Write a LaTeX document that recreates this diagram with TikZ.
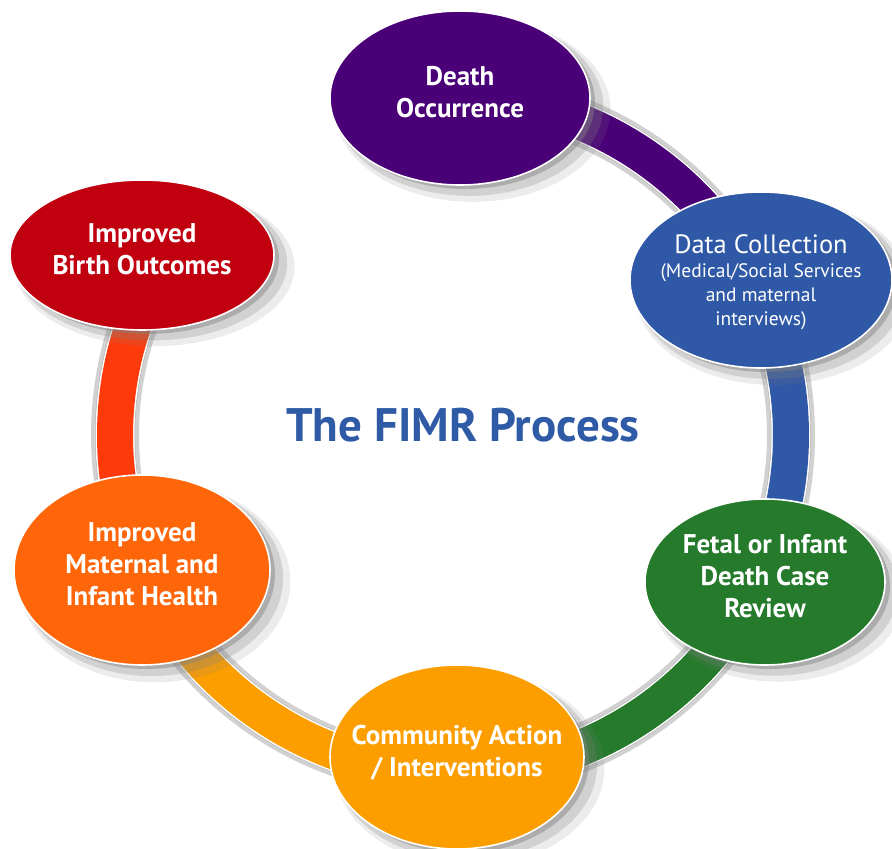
\documentclass[tikz,border=0pt]{standalone}
\usepackage{fontspec}
\setmainfont{PT Sans}
\usepackage{xcolor}
\usepackage{tikz}
\usetikzlibrary{
  calc,
  shapes.geometric,
  shadows
}

\definecolor{deathpurple}{HTML}{4A0077}
\definecolor{collectblue}{HTML}{2F58A6}
\definecolor{reviewgreen}{HTML}{257A2B}
\definecolor{actionorange}{HTML}{FC9E00}
\definecolor{healthorange}{HTML}{FF660A}
\definecolor{outcomered}{HTML}{C1000F}
\definecolor{ringred}{HTML}{FF3A0A}
\definecolor{titleblue}{HTML}{2E5AA6}

\begin{document}
\begin{tikzpicture}[%詳細設定
          x=1pt,y=1pt,
          stage/.style={
              ellipse,
              draw=white,
              line width=1.6pt,
              fill=#1,
              text=white,
              inner sep=-45pt,
              text depth=12pt,
              align=center,
              font=\bfseries\fontsize{27}{32}\selectfont,
              drop shadow={
                  shadow xshift=12pt,
                  shadow yshift=-11pt,
                  shadow scale=1.06,
                  opacity=.15
                },
              drop shadow={
                  shadow xshift=9pt,
                  shadow yshift=-8pt,
                  shadow scale=1.03,
                  opacity=.25
                },
              drop shadow={
                  shadow xshift=5pt,
                  shadow yshift=-4pt,
                  opacity=.45
                }
            },
          ring/.style={
              line width=36pt,
              draw=#1
            },
          ringedge/.style={
              line width=39pt,
              draw=white
            },
          ringshadow/.style={
              line width=#1,
              draw=black,
              opacity=.18,
              xshift=7pt,
              yshift=-6pt
            },
          ringshadow/.default=48pt
        ]

        \useasboundingbox (0,0) rectangle (892,849);

        % 座標の定義
        \coordinate (center) at (453,414);
        \def\rad{338}

        % 環の影
        \foreach \a/\b in {90/27,27/-25,-25/-89,-89/-156.5,203.5/150}{
            \draw[ringshadow] ($(center)+(\a:\rad)$) arc[start angle=\a, end angle=\b, radius=\rad];
            \draw[ringshadow=40pt] ($(center)+(\a:\rad)$) arc[start angle=\a, end angle=\b, radius=\rad];
            \draw[ringshadow=34pt] ($(center)+(\a:\rad)$) arc[start angle=\a, end angle=\b, radius=\rad];
          }

        % 環の描画
        \foreach \a/\b/\c in {90/27/deathpurple,27/-25/collectblue,-25/-89/reviewgreen,-89/-156.5/actionorange,203.5/150/ringred}{
            \draw[ringedge] ($(center)+(\a:\rad)$) arc[start angle=\a, end angle=\b, radius=\rad];
            \draw[ring=\c] ($(center)+(\a:\rad)$) arc[start angle=\a, end angle=\b, radius=\rad];
          }

        % 各段階
        \node[stage=deathpurple, minimum width=260, minimum height=174] (death) at (460,751) {Death\\Occurrence};
        \node[
          stage=collectblue,
          minimum width=262,
          minimum height=176,
          text depth=0pt,
          font=\mdseries\fontsize{19.5}{24}\selectfont
        ] (collection) at (761,569) {{\fontsize{26.5}{27}\selectfont Data Collection}\\(Medical/Social Services\\and maternal\\interviews)};
        \node[stage=reviewgreen, minimum width=240, minimum height=166] (review) at (765,267) {Fetal or Infant\\Death Case\\Review};
        \node[stage=actionorange, minimum width=254, minimum height=184] (action) at (457,92) {Community Action\\/ Interventions};
        \node[stage=healthorange, minimum width=256, minimum height=190] (health) at (142,279) {Improved\\Maternal and\\Infant Health};
        \node[stage=outcomered, minimum width=264, minimum height=150] (outcomes) at (142,594) {Improved\\Birth Outcomes};

        % 表題
        \node[text=titleblue, font=\bfseries\fontsize{47}{52}\selectfont] (title) at (463,424) {The FIMR Process};
      \end{tikzpicture}
\end{document}
